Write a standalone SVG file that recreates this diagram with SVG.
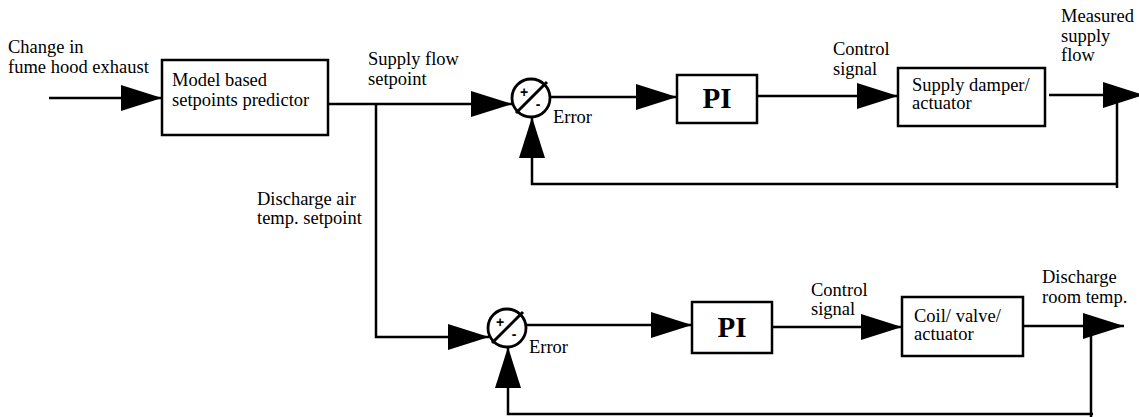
<svg xmlns="http://www.w3.org/2000/svg" width="1139" height="417" viewBox="0 0 1139 417">
  <style>
    .box { fill: #fff; stroke: #000; stroke-width: 2.5; }
    .wire { fill: none; stroke: #000; stroke-width: 2.5; }
    .arr { fill: none; stroke: #000; stroke-width: 2.5; marker-end: url(#head); }
    .sum { fill: #fff; stroke: #000; stroke-width: 2.8; }
    .slash { stroke: #000; stroke-width: 3; }
    .lbl { font-family: "Liberation Serif", "Times New Roman", serif; font-size: 18.5px; fill: #000; }
    .pi { font-family: "Liberation Serif", "Times New Roman", serif; font-size: 29px; font-weight: bold; fill: #000; text-anchor: middle; }
    .sign { font-family: "Liberation Sans", Arial, sans-serif; font-size: 14px; font-weight: bold; fill: #000; text-anchor: middle; }
  </style>
  <defs>
    <marker id="head" markerUnits="userSpaceOnUse" markerWidth="42" markerHeight="27" refX="41" refY="13" orient="auto">
      <path d="M0,0 L41,13 L0,26 Z" fill="#000"/>
    </marker>
  </defs>
  <rect width="1139" height="417" fill="#fff"/>

  <!-- connectors -->
  <g id="connectors">
    <!-- input to predictor -->
    <line class="arr" x1="49" y1="98" x2="162" y2="98"/>
    <!-- supply flow setpoint -->
    <line class="wire" x1="328" y1="104" x2="376" y2="104"/>
    <line class="arr" x1="376" y1="104" x2="512" y2="104"/>
    <!-- discharge air temp setpoint branch -->
    <polyline class="wire" points="376,104 376,337 420,337"/>
    <line class="arr" x1="420" y1="337" x2="489" y2="337"/>
    <!-- upper loop -->
    <line class="arr" x1="550" y1="97" x2="677" y2="97"/>
    <line class="arr" x1="757" y1="96" x2="898" y2="96"/>
    <line class="arr" x1="1049" y1="95" x2="1144" y2="95"/>
    <polyline class="wire" points="1117,103 1117,188"/>
    <polyline class="wire" points="1118,184 532,184 532,170"/>
    <line class="arr" x1="532" y1="170" x2="532" y2="117"/>
    <!-- lower loop -->
    <line class="arr" x1="526" y1="325" x2="692" y2="325"/>
    <line class="arr" x1="772" y1="327" x2="902" y2="327"/>
    <line class="arr" x1="1023" y1="326" x2="1124" y2="326"/>
    <polyline class="wire" points="1091,334 1091,417"/>
    <polyline class="wire" points="1093,414 508,414 508,400"/>
    <line class="arr" x1="508" y1="400" x2="508" y2="347"/>
  </g>

  <!-- free labels -->
  <g id="labels">
    <text class="lbl" x="8" y="53">Change in</text>
    <text class="lbl" x="8" y="73">fume hood exhaust</text>
    <text class="lbl" x="368" y="65">Supply flow</text>
    <text class="lbl" x="368" y="85">setpoint</text>
    <text class="lbl" x="257" y="205">Discharge air</text>
    <text class="lbl" x="257" y="224">temp. setpoint</text>
    <text class="lbl" x="553" y="123">Error</text>
    <text class="lbl" x="529" y="353">Error</text>
    <text class="lbl" x="833" y="55">Control</text>
    <text class="lbl" x="833" y="75">signal</text>
    <text class="lbl" x="811" y="296">Control</text>
    <text class="lbl" x="811" y="315">signal</text>
    <text class="lbl" x="1061" y="22">Measured</text>
    <text class="lbl" x="1061" y="42">supply</text>
    <text class="lbl" x="1061" y="61">flow</text>
    <text class="lbl" x="1042" y="283">Discharge</text>
    <text class="lbl" x="1042" y="303">room temp.</text>
  </g>

  <g id="predictor">
    <rect class="box" x="162" y="60" width="166" height="75"/>
    <text class="lbl" x="172" y="86">Model based</text>
    <text class="lbl" x="172" y="106">setpoints predictor</text>
  </g>

  <g id="sum-flow">
    <circle class="sum" cx="531" cy="98" r="19"/>
    <line class="slash" x1="516" y1="113" x2="547" y2="82"/>
    <text class="sign" x="524" y="97">+</text>
    <text class="sign" x="538" y="109">-</text>
  </g>

  <g id="pi-flow">
    <rect class="box" x="677" y="75" width="80" height="48"/>
    <text class="pi" x="717" y="108">PI</text>
  </g>

  <g id="damper">
    <rect class="box" x="898" y="68" width="147" height="58"/>
    <text class="lbl" x="912" y="91">Supply damper/</text>
    <text class="lbl" x="912" y="109">actuator</text>
  </g>

  <g id="sum-temp">
    <circle class="sum" cx="507" cy="328" r="19"/>
    <line class="slash" x1="492" y1="343" x2="523" y2="312"/>
    <text class="sign" x="500" y="327">+</text>
    <text class="sign" x="514" y="339">-</text>
  </g>

  <g id="pi-temp">
    <rect class="box" x="692" y="302" width="80" height="51"/>
    <text class="pi" x="732" y="337">PI</text>
  </g>

  <g id="coil">
    <rect class="box" x="902" y="297" width="121" height="59"/>
    <text class="lbl" x="914" y="322">Coil/ valve/</text>
    <text class="lbl" x="914" y="340">actuator</text>
  </g>
</svg>
